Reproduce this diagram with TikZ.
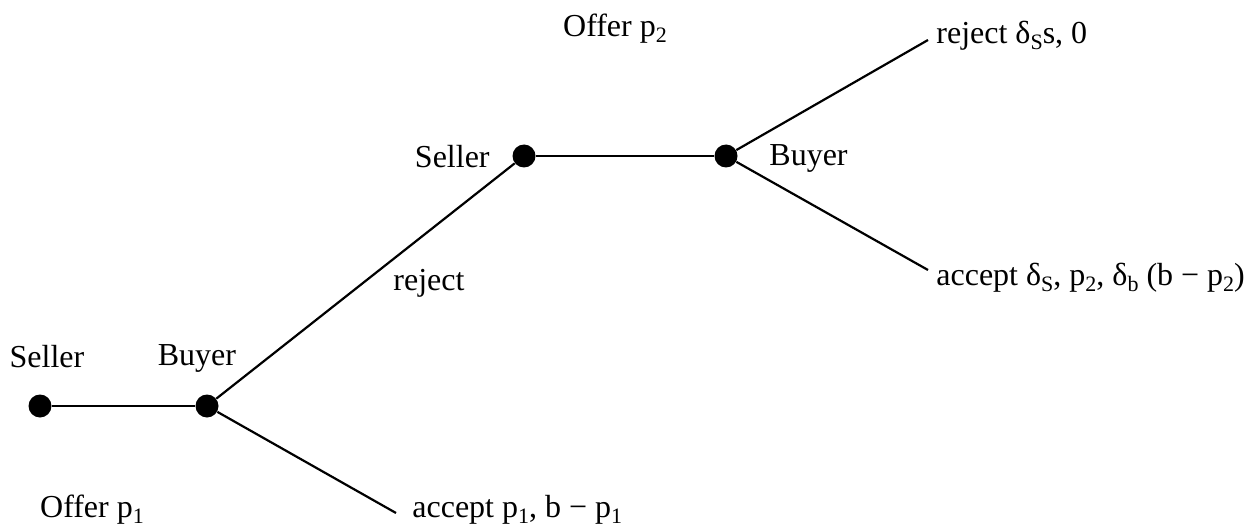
\documentclass[tikz,border=0pt]{standalone}
\usepackage{fontspec}
\setmainfont{Liberation Serif}
% lowered subscript, as in the printed formulas
\newcommand{\lowsub}[1]{\raisebox{-0.4ex}{\fontsize{11}{12}\selectfont #1}}
\begin{document}
\begin{tikzpicture}[x=0.5pt,y=-0.5pt,
  dot/.style={circle,fill=black,inner sep=0pt,minimum size=11.5pt},
  edge/.style={line width=1.1pt},
  lbl/.style={inner sep=0pt,font=\fontsize{16}{19}\selectfont}]
\useasboundingbox (0,0) rectangle (1251,529);
% decision nodes
\node[dot] (s1) at (40,406) {};
\node[dot] (b1) at (207,406) {};
\node[dot] (s2) at (524,156) {};
\node[dot] (b2) at (726,156) {};
% terminal points
\coordinate (a1) at (396,513);
\coordinate (r2) at (928,40);
\coordinate (a2) at (928,270);
% branches
\draw[edge] (s1) -- (b1);
\draw[edge] (b1) -- (s2);
\draw[edge] (b1) -- (a1);
\draw[edge] (s2) -- (b2);
\draw[edge] (b2) -- (r2);
\draw[edge] (b2) -- (a2);
% labels
\node[lbl] (ls1) at (47,357) {Seller};
\node[lbl] (lb1) at (197,358) {Buyer};
\node[lbl] (op1) at (92,510) {Offer p\lowsub{1}};
\node[lbl,anchor=west] (la1) at (412,510) {accept p\lowsub{1}, b − p\lowsub{1}};
\node[lbl] (lr1) at (429,283) {reject};
\node[lbl,anchor=east] (ls2) at (490,157) {Seller};
\node[lbl,anchor=west] (lb2) at (769,158) {Buyer};
\node[lbl] (op2) at (615,29) {Offer p\lowsub{2}};
\node[lbl,anchor=west] (lr2) at (936,36) {reject δ\lowsub{S}s, 0};
\node[lbl,anchor=west] (la2) at (936,278) {accept δ\lowsub{S}, p\lowsub{2}, δ\lowsub{b} (b − p\lowsub{2})};
\end{tikzpicture}
\end{document}
